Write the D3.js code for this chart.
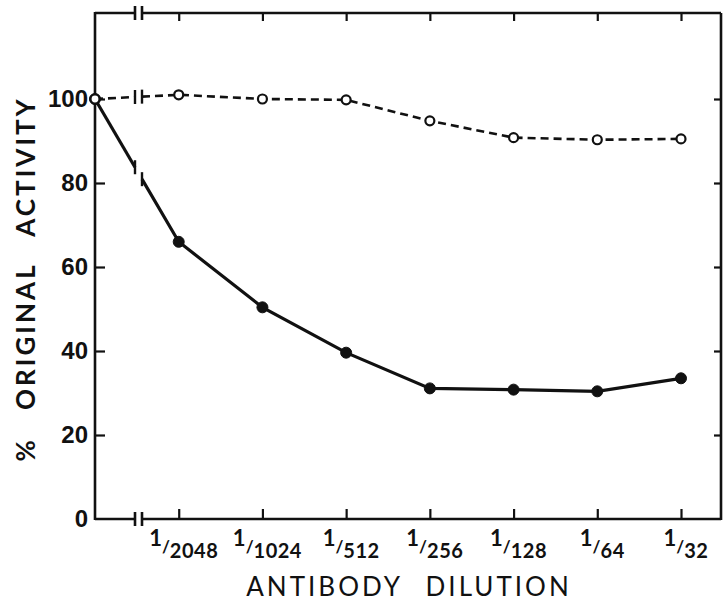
<!DOCTYPE html>
<html>
<head>
<meta charset="utf-8">
<script src="https://cdn.jsdelivr.net/npm/d3@7"></script>
<style>
  body { margin: 0; background: #fff; }
  svg { display: block; font-family: Lato, "Liberation Sans", sans-serif; }
  .tick line { stroke: #111; stroke-width: 2.2; }
</style>
</head>
<body>
<svg width="724" height="602"></svg>
<script>
// data (index 0 = no antibody)
var dilutions = ["", "2048", "1024", "512", "256", "128", "64", "32"];
var withAntibody = [100, 66, 50.4, 39.6, 31.1, 30.8, 30.4, 33.5];
var controlSerum = [100, 101, 100, 99.8, 94.8, 90.8, 90.3, 90.5];
var yTicks = [0, 20, 40, 60, 80, 100];

var svg = d3.select("svg");

var xLeft = 95, xRight = 721, yTop = 13, yBottom = 519;

var x = d3.scaleLinear().domain([0, 7]).range([xLeft, 681]);
var y = d3.scaleLinear().domain([0, 100]).range([yBottom, 99]);

// where the axis is broken, in x units
var brk = [x.invert(135), x.invert(142)];

var ink = "#111";

//left axis, ticks point inward
var yAxis = svg.append("g")
    .attr("transform", "translate(" + xLeft + ",0)")
    .call(d3.axisLeft(y).tickValues(yTicks).tickSize(-10).tickPadding(7));
yAxis.select(".domain").remove();
yAxis.selectAll(".tick").filter(function(d) { return d == 0; }).select("line").remove();
yAxis.selectAll("text")
    .attr("fill", ink)
    .style("font-size", "24px")
    .style("font-weight", "bold");

//right axis, no labels
var yAxisR = svg.append("g")
    .attr("transform", "translate(" + xRight + ",0)")
    .call(d3.axisRight(y).tickValues(yTicks.slice(1)).tickSize(-7).tickFormat(""));
yAxisR.select(".domain").remove();

//bottom axis
var xAxis = svg.append("g")
    .attr("transform", "translate(0," + yBottom + ")")
    .call(d3.axisBottom(x).tickValues(d3.range(1, 8)).tickSize(-10).tickFormat(""));
xAxis.select(".domain").remove();

//top axis
var xAxisT = svg.append("g")
    .attr("transform", "translate(0," + yTop + ")")
    .call(d3.axisTop(x).tickValues(d3.range(1, 8)).tickSize(-8).tickFormat(""));
xAxisT.select(".domain").remove();

//dilution labels like 1/2048
var xLab = svg.append("g").selectAll("text")
    .data(d3.range(1, 8))
    .enter().append("text")
    .attr("x", function(d) { return x(d) + 5; })
    .attr("y", 558)
    .attr("text-anchor", "middle")
    .attr("fill", ink)
    .style("font-size", "20px")
    .style("font-weight", "bold");
xLab.append("tspan").attr("dy", -12).style("font-size", "22px").text("1");
xLab.append("tspan").attr("dy", 7).style("font-size", "17px").text("/");
xLab.append("tspan").attr("dy", 5).style("letter-spacing", "0.5px").text(function(d) { return dilutions[d]; });

//frame with the breaks
var frame = svg.append("g")
    .attr("fill", "none")
    .attr("stroke", ink)
    .attr("stroke-width", 2.6);

frame.append("line").attr("x1", xLeft).attr("x2", xLeft).attr("y1", yTop - 1).attr("y2", yBottom + 1);
frame.append("line").attr("x1", xRight).attr("x2", xRight).attr("y1", yTop).attr("y2", yBottom + 1);
[yTop, yBottom].forEach(function(yy) {
  frame.append("line").attr("x1", xLeft).attr("x2", x(brk[0])).attr("y1", yy).attr("y2", yy);
  frame.append("line").attr("x1", x(brk[1])).attr("x2", xRight).attr("y1", yy).attr("y2", yy);
  brk.forEach(function(b) {
    frame.append("line").attr("x1", x(b)).attr("x2", x(b)).attr("y1", yy - 7).attr("y2", yy + 7);
  });
});

//draw a series with a break between the first two points
function drawSeries(values, dashed, filled) {
  var g = svg.append("g");
  var t0 = brk[0], t1 = brk[1];
  var v0 = values[0] + (values[1] - values[0]) * t0;
  var v1 = values[0] + (values[1] - values[0]) * t1;
  var first = [[0, values[0]], [t0, v0]];
  var rest = [[t1, v1]].concat(values.slice(1).map(function(v, i) { return [i + 1, v]; }));

  var line = d3.line()
      .x(function(d) { return x(d[0]); })
      .y(function(d) { return y(d[1]); });

  [first, rest].forEach(function(seg) {
    g.append("path")
        .attr("d", line(seg))
        .attr("fill", "none")
        .attr("stroke", ink)
        .attr("stroke-width", dashed ? 2.6 : 3.2)
        .attr("stroke-dasharray", dashed ? "8,5" : null);
  });

  //break marks
  [[t0, v0], [t1, v1]].forEach(function(p) {
    g.append("line")
        .attr("x1", x(p[0])).attr("x2", x(p[0]))
        .attr("y1", y(p[1]) - 7).attr("y2", y(p[1]) + 7)
        .attr("stroke", ink)
        .attr("stroke-width", 2.4);
  });

  g.selectAll("circle")
      .data(values)
      .enter().append("circle")
      .attr("cx", function(d, i) { return x(i); })
      .attr("cy", function(d) { return y(d); })
      .attr("r", filled ? 5.5 : 4.5)
      .attr("fill", filled ? ink : "#fff")
      .attr("stroke", ink)
      .attr("stroke-width", filled ? 1 : 2.2);
}

drawSeries(withAntibody, false, true);
drawSeries(controlSerum, true, false);

//axis titles
svg.append("text")
    .attr("x", 409)
    .attr("y", 596)
    .attr("text-anchor", "middle")
    .attr("fill", ink)
    .style("font-size", "26px")
    .style("letter-spacing", "3px")
    .style("word-spacing", "14px")
    .text("ANTIBODY DILUTION");

svg.append("text")
    .attr("transform", "translate(35,279) rotate(-90)")
    .attr("text-anchor", "middle")
    .attr("fill", ink)
    .style("font-size", "26px")
    .style("font-weight", "bold")
    .style("letter-spacing", "3px")
    .style("word-spacing", "18px")
    .text("% ORIGINAL ACTIVITY");
</script>
</body>
</html>
